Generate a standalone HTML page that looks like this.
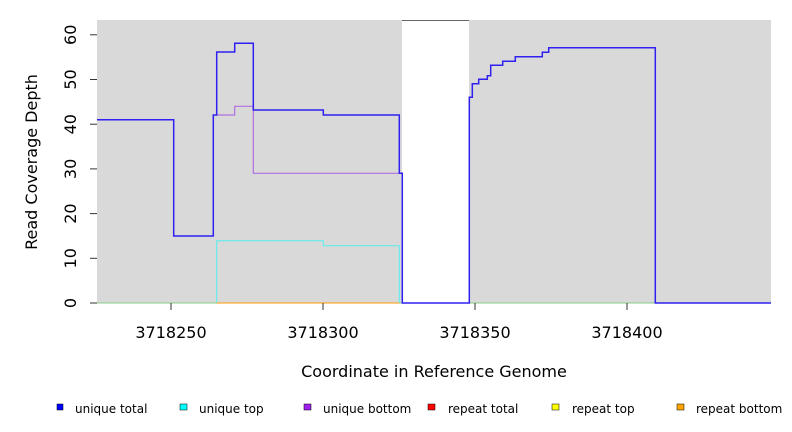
<!DOCTYPE html>
<html><head><meta charset="utf-8"><style>
html,body{margin:0;padding:0;background:#fff;}
svg{display:block;font-family:"DejaVu Sans","Liberation Sans",sans-serif;}
</style></head><body>
<svg width="792" height="432" viewBox="0 0 792 432">
<rect x="97" y="20" width="674" height="283" fill="#d9d9d9"/>
<rect x="402" y="20" width="67" height="283" fill="#fff"/>
<line x1="402" y1="20.5" x2="469" y2="20.5" stroke="#666" stroke-width="1"/>
<line x1="97" y1="303" x2="771" y2="303" stroke="#8c8" stroke-width="1"/>
<line x1="216" y1="303" x2="400" y2="303" stroke="#f90" stroke-width="1"/>
<polyline fill="none" stroke="#5ee" stroke-width="1" points="216.7,303 216.7,240.7 323.3,240.7 323.3,245.7 399.3,245.7 399.3,303"/>
<polyline fill="none" stroke="#b070e0" stroke-width="1.2" points="216.7,115 234.7,115 234.7,106.3 253.3,106.3 253.3,173.3 399.3,173.3"/>
<polyline fill="none" stroke="#3020f0" stroke-width="1.5" points="97,119.7 173.7,119.7 173.7,236 213.3,236 213.3,115 216.7,115 216.7,52 234.7,52 234.7,43.3 253.3,43.3 253.3,110 323.3,110 323.3,115 399.3,115 399.3,173.3 402.3,173.3 402.3,303 469.3,303 469.3,97.3 472.3,97.3 472.3,83.7 478.7,83.7 478.7,79.3 487.3,79.3 487.3,75.7 490.7,75.7 490.7,65.3 502.7,65.3 502.7,61.3 515.3,61.3 515.3,56.7 542.3,56.7 542.3,52.3 548.7,52.3 548.7,47.7 655.3,47.7 655.3,303 771,303"/>
<g stroke="#333" stroke-width="1">
<line x1="90" y1="303" x2="97" y2="303"/><line x1="90" y1="258.3" x2="97" y2="258.3"/>
<line x1="90" y1="213.6" x2="97" y2="213.6"/><line x1="90" y1="168.9" x2="97" y2="168.9"/>
<line x1="90" y1="124.2" x2="97" y2="124.2"/><line x1="90" y1="79.5" x2="97" y2="79.5"/>
<line x1="90" y1="34.8" x2="97" y2="34.8"/>
<line x1="171" y1="303" x2="171" y2="310"/><line x1="323" y1="303" x2="323" y2="310"/>
<line x1="475" y1="303" x2="475" y2="310"/><line x1="627" y1="303" x2="627" y2="310"/>
</g>
<g font-size="16" fill="#000" text-anchor="middle">
<text transform="translate(76,303) rotate(-90)">0</text>
<text transform="translate(76,258.3) rotate(-90)">10</text>
<text transform="translate(76,213.6) rotate(-90)">20</text>
<text transform="translate(76,168.9) rotate(-90)">30</text>
<text transform="translate(76,124.2) rotate(-90)">40</text>
<text transform="translate(76,79.5) rotate(-90)">50</text>
<text transform="translate(76,34.8) rotate(-90)">60</text>
<text x="171" y="338">3718250</text>
<text x="323" y="338">3718300</text>
<text x="475" y="338">3718350</text>
<text x="627" y="338">3718400</text>
<text x="434" y="377">Coordinate in Reference Genome</text>
<text transform="translate(37,162) rotate(-90)">Read Coverage Depth</text>
</g>
<g font-size="12" fill="#000">
<rect x="57" y="404" width="6" height="6" fill="#00f" stroke="#000" stroke-width="0.5"/><text x="75" y="413">unique total</text>
<rect x="180" y="404" width="7" height="6" fill="#0ff" stroke="#000" stroke-width="0.5"/><text x="199" y="413">unique top</text>
<rect x="304" y="404" width="7" height="6" fill="#a020f0" stroke="#000" stroke-width="0.5"/><text x="323" y="413">unique bottom</text>
<rect x="428" y="404" width="7" height="6" fill="#f00" stroke="#000" stroke-width="0.5"/><text x="448" y="413">repeat total</text>
<rect x="552" y="404" width="7" height="6" fill="#ff0" stroke="#000" stroke-width="0.5"/><text x="572" y="413">repeat top</text>
<rect x="677" y="404" width="7" height="6" fill="#ffa500" stroke="#000" stroke-width="0.5"/><text x="696" y="413">repeat bottom</text>
</g>
</svg>
</body></html>
